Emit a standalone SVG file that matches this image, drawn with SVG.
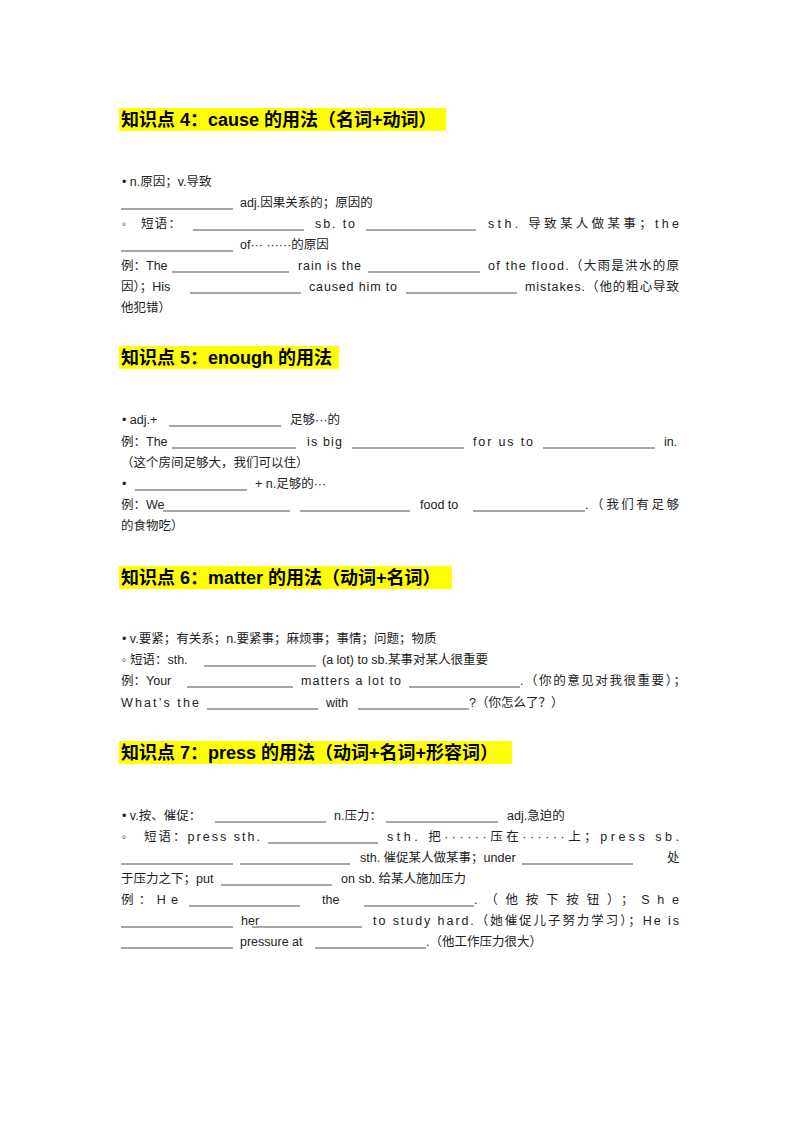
<svg xmlns="http://www.w3.org/2000/svg" width="800" height="1132" viewBox="0 0 800 1132">
<style>
text{font-family:"Liberation Sans","Noto Sans CJK SC",sans-serif;font-size:12.5px;fill:#222}
.h{font-size:18px;font-weight:bold;fill:#000}
.hl{fill:#ffff00}
.b{stroke:#222;stroke-width:0.8}
</style>
<rect width="800" height="1132" fill="#fff"/>
<g id="sec4">
<rect class="hl" x="119" y="108" width="327" height="23"/>
<text class="h" x="121" y="126">知识点 4：cause 的用法（名词+动词）</text>
<text x="122" y="186">•  n.原因；v.导致</text>
<line class="b" x1="121" y1="209" x2="233" y2="209"/><text x="240" y="207">adj.因果关系的；原因的</text>
<text x="122" y="228">◦</text><text x="141" y="228" textLength="40" lengthAdjust="spacing">短语：</text>
<line class="b" x1="193" y1="230" x2="304" y2="230"/><text x="315" y="228" textLength="40" lengthAdjust="spacing">sb. to</text>
<line class="b" x1="366" y1="230" x2="476" y2="230"/><text x="488" y="228" textLength="191" lengthAdjust="spacing">sth. 导致某人做某事；the</text>
<line class="b" x1="121" y1="251" x2="233" y2="251"/><text x="240" y="249">of···  ······的原因</text>
<text x="121" y="270">例：The</text><line class="b" x1="172" y1="272" x2="289" y2="272"/>
<text x="298" y="270" textLength="63" lengthAdjust="spacing">rain is the</text><line class="b" x1="368" y1="272" x2="480" y2="272"/>
<text x="488" y="270" textLength="191" lengthAdjust="spacing">of the flood.（大雨是洪水的原</text>
<text x="121" y="291">因）；His</text><line class="b" x1="190" y1="293" x2="301" y2="293"/>
<text x="309" y="291" textLength="88" lengthAdjust="spacing">caused him to</text><line class="b" x1="406" y1="293" x2="517" y2="293"/>
<text x="525" y="291" textLength="154" lengthAdjust="spacing">mistakes.（他的粗心导致</text>
<text x="121" y="312">他犯错）</text>
</g>
<g id="sec5">
<rect class="hl" x="119" y="346" width="220" height="23"/>
<text class="h" x="121" y="364">知识点 5：enough 的用法</text>
<text x="122" y="424">•  adj.+</text><line class="b" x1="169" y1="426" x2="281" y2="426"/><text x="290" y="424">足够···的</text>
<text x="121" y="446">例：The</text><line class="b" x1="172" y1="448" x2="296" y2="448"/>
<text x="307" y="446" textLength="35" lengthAdjust="spacing">is big</text><line class="b" x1="352" y1="448" x2="464" y2="448"/>
<text x="473" y="446" textLength="60" lengthAdjust="spacing">for us to</text><line class="b" x1="543" y1="448" x2="655" y2="448"/>
<text x="664" y="446">in.</text>
<text x="121" y="467">（这个房间足够大，我们可以住）</text>
<text x="122" y="488">•</text><line class="b" x1="135" y1="490" x2="247" y2="490"/><text x="255" y="488">+  n.足够的···</text>
<text x="121" y="509">例：We</text><line class="b" x1="163" y1="511" x2="290" y2="511"/><line class="b" x1="300" y1="511" x2="410" y2="511"/>
<text x="420" y="509">food to</text><line class="b" x1="473" y1="511" x2="585" y2="511"/>
<text x="585" y="509" textLength="94" lengthAdjust="spacing">.（我们有足够</text>
<text x="121" y="530">的食物吃）</text>
</g>
<g id="sec6">
<rect class="hl" x="119" y="566" width="333" height="23"/>
<text class="h" x="121" y="584">知识点 6：matter 的用法（动词+名词）</text>
<text x="122" y="643">•  v.要紧；有关系；n.要紧事；麻烦事；事情；问题；物质</text>
<text x="122" y="664">◦  短语：sth.</text><line class="b" x1="204" y1="666" x2="316" y2="666"/><text x="322" y="664">  (a lot)  to  sb.某事对某人很重要</text>
<text x="121" y="685">例：Your</text><line class="b" x1="187" y1="687" x2="293" y2="687"/>
<text x="301" y="685" textLength="100" lengthAdjust="spacing">matters a lot to</text><line class="b" x1="409" y1="687" x2="520" y2="687"/>
<text x="520" y="685" textLength="166" lengthAdjust="spacing">.（你的意见对我很重要）；</text>
<text x="121" y="707" textLength="78" lengthAdjust="spacing">What’s the</text><line class="b" x1="207" y1="709" x2="318" y2="709"/>
<text x="326" y="707">with</text><line class="b" x1="358" y1="709" x2="469" y2="709"/><text x="469" y="707">?（你怎么了？）</text>
</g>
<g id="sec7">
<rect class="hl" x="119" y="741" width="393" height="23"/>
<text class="h" x="121" y="759">知识点 7：press 的用法（动词+名词+形容词）</text>
<text x="122" y="820">•  v.按、催促：</text><line class="b" x1="215" y1="822" x2="326" y2="822"/>
<text x="334" y="820">n.压力：</text><line class="b" x1="386" y1="822" x2="498" y2="822"/><text x="507" y="820">adj.急迫的</text>
<text x="122" y="841">◦</text><text x="144" y="841" textLength="116" lengthAdjust="spacing">短语：press sth.</text>
<line class="b" x1="268" y1="843" x2="378" y2="843"/><text x="387" y="841" textLength="292" lengthAdjust="spacing">sth. 把······压在······上；press sb.</text>
<line class="b" x1="121" y1="864" x2="233" y2="864"/><line class="b" x1="240" y1="864" x2="350" y2="864"/>
<text x="360" y="862">sth. 催促某人做某事；under</text><line class="b" x1="522" y1="864" x2="633" y2="864"/><text x="667" y="862">处</text>
<text x="121" y="883">于压力之下；put</text><line class="b" x1="221" y1="885" x2="332" y2="885"/><text x="341" y="883">on sb. 给某人施加压力</text>
<text x="121" y="904" textLength="57" lengthAdjust="spacing">例：He</text><line class="b" x1="189" y1="906" x2="300" y2="906"/>
<text x="322" y="904">the</text><line class="b" x1="364" y1="906" x2="474" y2="906"/>
<text x="474" y="904" textLength="205" lengthAdjust="spacing">.（他按下按钮）；She</text>
<line class="b" x1="121" y1="927" x2="233" y2="927"/><text x="241" y="925">her</text><line class="b" x1="252" y1="927" x2="362" y2="927"/>
<text x="373" y="925" textLength="306" lengthAdjust="spacing">to study hard.（她催促儿子努力学习）；He is</text>
<line class="b" x1="121" y1="948" x2="233" y2="948"/><text x="240" y="946">pressure at</text><line class="b" x1="315" y1="948" x2="426" y2="948"/>
<text x="426" y="946">.（他工作压力很大）</text>
</g>
</svg>
